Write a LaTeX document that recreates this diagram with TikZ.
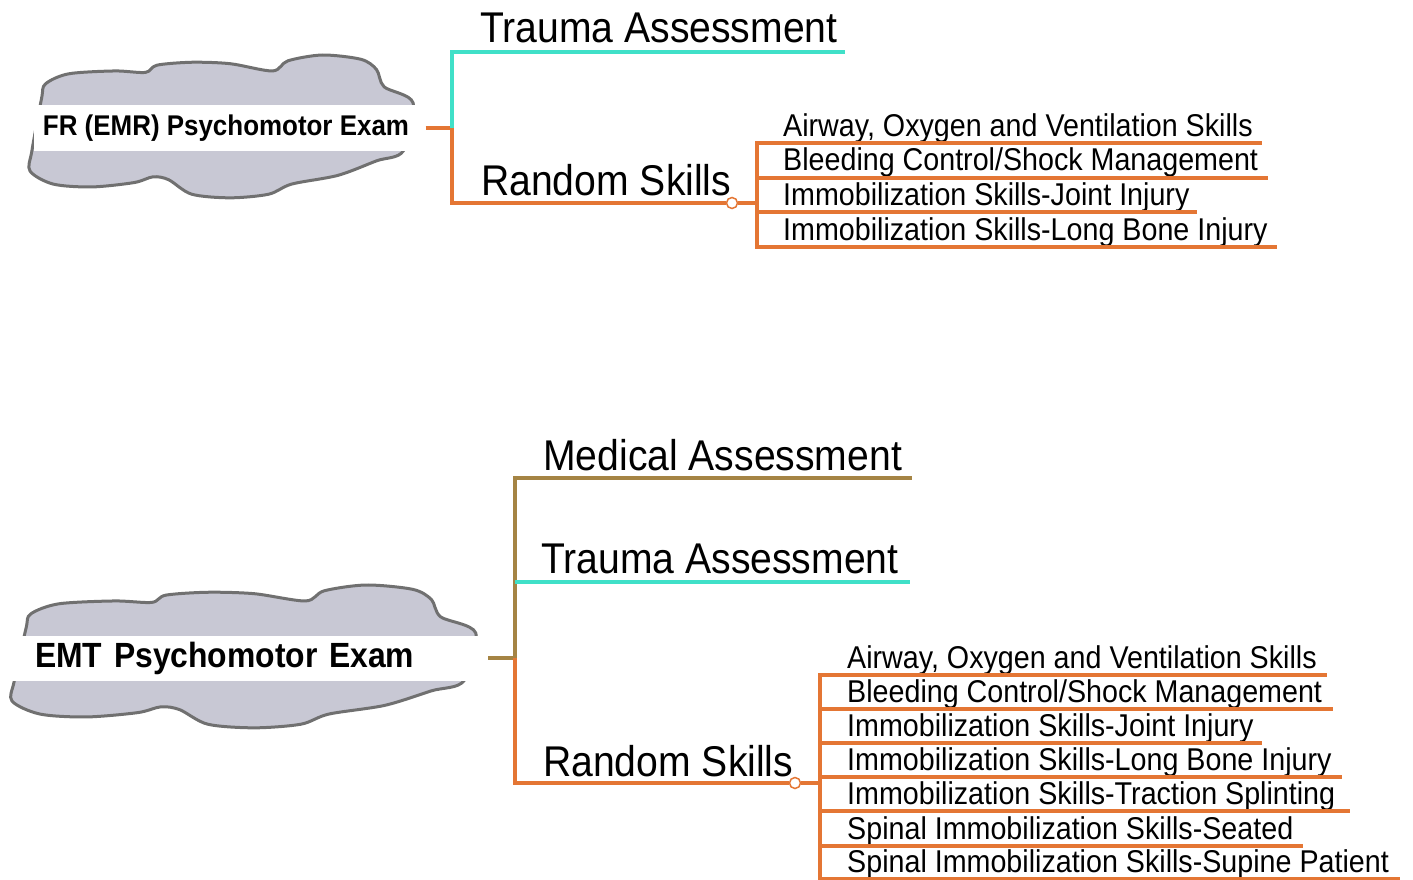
\documentclass[tikz,border=0pt]{standalone}
\usepackage{fontspec}
\setmainfont{Liberation Sans}[FakeStretch=0.91]
\definecolor{branchorange}{RGB}{228,118,52}
\definecolor{branchteal}{RGB}{64,224,200}
\definecolor{branchbrown}{RGB}{165,132,68}
\definecolor{cloudfill}{RGB}{200,200,212}
\definecolor{cloudline}{RGB}{112,112,112}
\tikzset{examcloud/.pic={
  \path[fill=cloudfill,draw=cloudline,line width=3pt] plot[smooth cycle,tension=0.5] coordinates {
    (0.03,0.30) (0.04,0.20) (0.10,0.13) (0.22,0.11) (0.30,0.12) (0.33,0.07) (0.42,0.05)
    (0.52,0.06) (0.63,0.11) (0.67,0.04) (0.76,0.0) (0.86,0.03) (0.90,0.10) (0.92,0.22)
    (0.995,0.33) (0.97,0.66) (0.90,0.73) (0.80,0.83) (0.68,0.89) (0.62,0.96) (0.52,0.985)
    (0.42,0.96) (0.36,0.86) (0.32,0.84) (0.27,0.88) (0.16,0.91) (0.06,0.89) (0.0,0.80) (0.005,0.66)};
}}
\begin{document}
\begin{tikzpicture}[x=1pt,y=-1pt]
        \tikzstyle{cloudlabel}=[fill=white,inner sep=0,minimum height=45,font=\bfseries\fontsize{28.5}{30}\selectfont]
        \tikzstyle{headtext}=[anchor=base west,inner sep=0,font=\fontsize{43}{46}\selectfont]
        \tikzstyle{itemtext}=[anchor=base west,inner sep=0,font=\fontsize{31.5}{34}\selectfont]
        \tikzstyle{mainline}=[draw,line width=4.5pt]
        \tikzstyle{subline}=[draw,line width=3.5pt,branchorange]
        \tikzstyle{knob}=[circle,draw=branchorange,fill=white,line width=1.5pt,inner sep=0,minimum size=11]
        \useasboundingbox (0,0) rectangle (1413,880);
        \begin{scope}
           \pic[xscale=385,yscale=145] at (30,55) {examcloud};
           \node [cloudlabel,minimum width=385] (fr) at (226,128) {FR (EMR) Psychomotor Exam};
           \coordinate (frj) at (452,128);
           \node [headtext] (ta1) at (480,43) {Trauma Assessment};
           \coordinate (ta1e) at (845,52);
           \node [headtext] (rs1) at (481,195) {Random Skills};
           \node [knob] (rs1k) at (732,203) {};
           \coordinate (rs1j) at (757,203);
           \path[mainline,branchorange] ([xshift=7]fr.east) -- (frj);
           \path[mainline,branchteal] (frj) |- (ta1e);
           \path[mainline,branchorange] (frj) |- (rs1k);
           \path[mainline,branchorange] (rs1k) -- (rs1j);
           \foreach \y/\e/\t [count=\i] in {143/1262/{Airway, Oxygen and Ventilation Skills},
              178/1268/{Bleeding Control/Shock Management},
              212/1197/{Immobilization Skills-Joint Injury},
              247/1277/{Immobilization Skills-Long Bone Injury}} {
              \node [itemtext] (rs1t\i) at (783,\y-7) {\t};
              \coordinate (rs1e\i) at (\e,\y);
              \path[subline] (rs1j) |- (rs1e\i);
           }
        \end{scope}
        \begin{scope}
           \pic[xscale=466,yscale=145] at (12,585) {examcloud};
           \node [cloudlabel,anchor=west,text width=425,align=left,inner xsep=25,font=\bfseries\fontsize{35}{38}\selectfont] (emt) at (10,658) {EMT Psychomotor Exam};
           \coordinate (emtj) at (515,658);
           \node [headtext] (ma2) at (543,470) {Medical Assessment};
           \coordinate (ma2e) at (912,478);
           \node [headtext] (ta2) at (541,573) {Trauma Assessment};
           \coordinate (ta2s) at (515,582);
           \coordinate (ta2e) at (910,582);
           \node [headtext] (rs2) at (543,776) {Random Skills};
           \node [knob] (rs2k) at (795,783) {};
           \coordinate (rs2j) at (820,783);
           \path[mainline,branchbrown] ([xshift=3]emt.east) -- (emtj);
           \path[mainline,branchbrown] (emtj) |- (ma2e);
           \path[mainline,branchteal] (ta2s) -- (ta2e);
           \path[mainline,branchorange] (emtj) |- (rs2k);
           \path[mainline,branchorange] (rs2k) -- (rs2j);
           \foreach \y/\e/\t [count=\i] in {675/1327/{Airway, Oxygen and Ventilation Skills},
              709/1333/{Bleeding Control/Shock Management},
              743/1262/{Immobilization Skills-Joint Injury},
              777/1342/{Immobilization Skills-Long Bone Injury},
              811/1350/{Immobilization Skills-Traction Splinting},
              846/1303/{Spinal Immobilization Skills-Seated},
              879/1400/{Spinal Immobilization Skills-Supine Patient}} {
              \node [itemtext] (rs2t\i) at (847,\y-7) {\t};
              \coordinate (rs2e\i) at (\e,\y);
              \path[subline] (rs2j) |- (rs2e\i);
           }
        \end{scope}
\end{tikzpicture}
\end{document}
